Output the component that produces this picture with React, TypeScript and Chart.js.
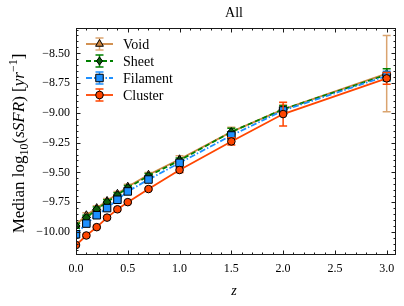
import React, { useEffect, useRef } from "react";
import { Chart, registerables } from "chart.js";

Chart.register(...registerables);

// ---------------- data ----------------
const zValues = [0, 0.1, 0.2, 0.3, 0.4, 0.5, 0.7, 1.0, 1.5, 2.0, 3.0];

const voidMedian = [-9.94, -9.86, -9.8, -9.74, -9.68, -9.62, -9.52, -9.39, -9.16, -8.97, -8.67];
const voidErr = [0.02, 0.02, 0.02, 0.02, 0.02, 0.02, 0.02, 0.03, 0.04, 0.04, 0.32];

const sheetMedian = [-9.95, -9.88, -9.81, -9.75, -9.69, -9.63, -9.53, -9.4, -9.16, -8.97, -8.68];
const sheetErr = [0.02, 0.02, 0.02, 0.02, 0.02, 0.02, 0.02, 0.02, 0.03, 0.03, 0.05];

const filamentMedian = [-10.02, -9.93, -9.86, -9.8, -9.73, -9.66, -9.56, -9.42, -9.19, -8.98, -8.69];
const filamentErr = [0.01, 0.01, 0.01, 0.01, 0.01, 0.01, 0.01, 0.02, 0.02, 0.02, 0.04];

const clusterMedian = [-10.11, -10.03, -9.96, -9.88, -9.81, -9.75, -9.64, -9.48, -9.24, -9.01, -8.71];
const clusterErr = [0.01, 0.01, 0.01, 0.01, 0.01, 0.01, 0.01, 0.02, 0.03, 0.1, 0.05];

const seriesNames = ["Void", "Sheet", "Filament", "Cluster"];
const xTickValues = [0, 0.5, 1.0, 1.5, 2.0, 2.5, 3.0];
const yTickValues = [-10.0, -9.75, -9.5, -9.25, -9.0, -8.75, -8.5];

const X_MIN = 0;
const X_MAX = 3.09;
const Y_MIN = -10.194;
const Y_MAX = -8.287;

// ---------------- styles ----------------
const SERIF = '"Liberation Serif", "DejaVu Serif", serif';
const styles = [
  { color: "#cd853f", errColor: "rgba(205,133,63,0.75)", dash: [] as number[], point: "triangle", radius: 4.5, fill: "#cd853f" },
  { color: "#008000", errColor: "#008000", dash: [5, 3], point: "rectRot", radius: 4, fill: "#0b5d0b" },
  { color: "#1e90ff", errColor: "#1e90ff", dash: [6, 2, 1.5, 2], point: "rect", radius: 5.3, fill: "#1e90ff" },
  { color: "#ff4500", errColor: "#ff4500", dash: [] as number[], point: "circle", radius: 3.8, fill: "#ff4500" },
];
const medians = [voidMedian, sheetMedian, filamentMedian, clusterMedian];
const errors = [voidErr, sheetErr, filamentErr, clusterErr];

function fmtMinus(s: string) {
  return s.replace("-", "\u2212");
}

function drawMarker(ctx: CanvasRenderingContext2D, kind: string, x: number, y: number, r: number, fill: string) {
  ctx.save();
  ctx.beginPath();
  if (kind === "circle") {
    ctx.arc(x, y, r, 0, Math.PI * 2);
  } else if (kind === "rect") {
    const s = r * Math.SQRT1_2;
    ctx.rect(x - s, y - s, 2 * s, 2 * s);
  } else if (kind === "rectRot") {
    ctx.moveTo(x, y - r);
    ctx.lineTo(x + r * 0.75, y);
    ctx.lineTo(x, y + r);
    ctx.lineTo(x - r * 0.75, y);
    ctx.closePath();
  } else if (kind === "triangle") {
    const h = r * 1.5;
    ctx.moveTo(x, y - r);
    ctx.lineTo(x + h / Math.sqrt(3), y + r / 2);
    ctx.lineTo(x - h / Math.sqrt(3), y + r / 2);
    ctx.closePath();
  }
  ctx.fillStyle = fill;
  ctx.fill();
  ctx.strokeStyle = "#000";
  ctx.lineWidth = 1;
  ctx.stroke();
  ctx.restore();
}

type Part = { t: string; size: number; italic?: boolean; dy?: number };
function drawRich(ctx: CanvasRenderingContext2D, parts: Part[], cx: number, cy: number, rot: number, base: number) {
  ctx.save();
  ctx.translate(cx, cy);
  ctx.rotate(rot);
  ctx.textBaseline = "alphabetic";
  ctx.textAlign = "left";
  let total = 0;
  const widths: number[] = [];
  for (const p of parts) {
    ctx.font = `${p.italic ? "italic " : ""}${p.size}px ${SERIF}`;
    const w = ctx.measureText(p.t).width;
    widths.push(w);
    total += w;
  }
  let x = -total / 2;
  parts.forEach((p, i) => {
    ctx.font = `${p.italic ? "italic " : ""}${p.size}px ${SERIF}`;
    ctx.fillStyle = "#000";
    ctx.fillText(p.t, x, base + (p.dy || 0));
    x += widths[i];
  });
  ctx.restore();
}

const mplPlugin = {
  id: "mplDecor",
  beforeDatasetDraw(chart: any, args: any) {
    const idx = chart.data.datasets[args.index].seriesIndex as number;
    const ctx: CanvasRenderingContext2D = chart.ctx;
    const xs = chart.scales.x;
    const ys = chart.scales.y;
    const { left, right, top, bottom } = chart.chartArea;
    const st = styles[idx];
    ctx.save();
    ctx.beginPath();
    ctx.rect(left, top, right - left, bottom - top);
    ctx.clip();
    ctx.strokeStyle = st.errColor;
    ctx.lineWidth = 1.5;
    zValues.forEach((z, j) => {
      const v = medians[idx][j];
      const e = errors[idx][j];
      const px = xs.getPixelForValue(z);
      const y1 = ys.getPixelForValue(v + e);
      const y2 = ys.getPixelForValue(v - e);
      ctx.beginPath();
      ctx.moveTo(px, y1);
      ctx.lineTo(px, y2);
      ctx.moveTo(px - 4, y1);
      ctx.lineTo(px + 4, y1);
      ctx.moveTo(px - 4, y2);
      ctx.lineTo(px + 4, y2);
      ctx.stroke();
    });
    ctx.restore();
  },
  afterDraw(chart: any) {
    const ctx: CanvasRenderingContext2D = chart.ctx;
    const xs = chart.scales.x;
    const ys = chart.scales.y;
    const { left, right, top, bottom } = chart.chartArea;
    ctx.save();
    // spines
    ctx.strokeStyle = "#1a1a1a";
    ctx.lineWidth = 1;
    ctx.strokeRect(Math.round(left) + 0.5, Math.round(top) + 0.5, Math.round(right - left) - 1, Math.round(bottom - top) - 1);
    // ticks
    ctx.beginPath();
    const majL = 4.5;
    const minL = 2.5;
    for (let k = Math.ceil(X_MIN / 0.1 - 1e-6); k <= Math.floor(X_MAX / 0.1 + 1e-6); k++) {
      const v = k / 10;
      const isMaj = k % 5 === 0;
      const L = isMaj ? majL : minL;
      const px = Math.round(xs.getPixelForValue(v)) + 0.5;
      ctx.moveTo(px, bottom);
      ctx.lineTo(px, bottom - L);
      ctx.moveTo(px, top);
      ctx.lineTo(px, top + L);
    }
    for (let k = Math.ceil(Y_MIN / 0.05 - 1e-6); k <= Math.floor(Y_MAX / 0.05 + 1e-6); k++) {
      const v = k * 0.05;
      const isMaj = k % 5 === 0;
      const L = isMaj ? majL : minL;
      const py = Math.round(ys.getPixelForValue(v)) + 0.5;
      ctx.moveTo(left, py);
      ctx.lineTo(left + L, py);
      ctx.moveTo(right, py);
      ctx.lineTo(right - L, py);
    }
    ctx.stroke();

    // title
    ctx.fillStyle = "#000";
    ctx.textAlign = "center";
    ctx.textBaseline = "middle";
    ctx.font = `14px ${SERIF}`;
    const cx = (left + right) / 2;
    ctx.fillText("All", cx - 2, 13);
    // x label
    ctx.font = `italic 14px ${SERIF}`;
    ctx.fillText("z", cx - 2, 291);

    // y label
    drawRich(
      ctx,
      [
        { t: "Median log", size: 17 },
        { t: "10", size: 12, dy: 4 },
        { t: "(", size: 17 },
        { t: "sSFR", size: 17, italic: true },
        { t: ") [", size: 17 },
        { t: "yr", size: 17, italic: true },
        { t: "\u22121", size: 12, dy: -7 },
        { t: "]", size: 17 },
      ],
      18,
      (top + bottom) / 2 + 2,
      -Math.PI / 2,
      6
    );

    // legend
    const lx0 = left + 10;
    const lx1 = left + 37;
    const mx = (lx0 + lx1) / 2;
    seriesNames.forEach((name, i) => {
      const st = styles[i];
      const y = top + 16 + i * 17;
      ctx.save();
      ctx.strokeStyle = st.color;
      ctx.lineWidth = 1.8;
      ctx.setLineDash(st.dash);
      ctx.beginPath();
      ctx.moveTo(lx0, y);
      ctx.lineTo(lx1, y);
      ctx.stroke();
      ctx.setLineDash([]);
      ctx.strokeStyle = st.errColor;
      ctx.lineWidth = 1.5;
      ctx.beginPath();
      ctx.moveTo(mx, y - 6);
      ctx.lineTo(mx, y + 6);
      ctx.moveTo(mx - 4, y - 6);
      ctx.lineTo(mx + 4, y - 6);
      ctx.moveTo(mx - 4, y + 6);
      ctx.lineTo(mx + 4, y + 6);
      ctx.stroke();
      ctx.restore();
      drawMarker(ctx, st.point, mx, y, st.radius, st.fill);
      ctx.fillStyle = "#000";
      ctx.font = `14px ${SERIF}`;
      ctx.textAlign = "left";
      ctx.textBaseline = "middle";
      ctx.fillText(name, left + 47, y + 1);
    });
    ctx.restore();
  },
};

export default function App() {
  const canvasRef = useRef<HTMLCanvasElement | null>(null);

  useEffect(() => {
    document.body.style.margin = "0";
    const canvas = canvasRef.current;
    if (!canvas) return;

    const datasets = seriesNames.map((name, i) => {
      const st = styles[i];
      return {
        label: name,
        seriesIndex: i,
        data: zValues.map((z, j) => ({ x: z, y: medians[i][j] })),
        borderColor: st.color,
        backgroundColor: st.fill,
        borderWidth: 1.8,
        borderDash: st.dash,
        pointStyle: st.point,
        pointRadius: st.radius,
        pointBackgroundColor: st.fill,
        pointBorderColor: "#000",
        pointBorderWidth: 1,
        tension: 0,
        clip: 0,
        order: 3 - i,
      } as any;
    });

    const chart = new Chart(canvas, {
      type: "line",
      data: { datasets },
      options: {
        responsive: false,
        animation: false,
        devicePixelRatio: 1,
        layout: { padding: { left: 0, right: 8, top: 28, bottom: 0 } },
        plugins: {
          legend: { display: false },
          tooltip: { enabled: false },
          title: { display: false },
        },
        scales: {
          x: {
            type: "linear",
            min: X_MIN,
            max: X_MAX,
            grid: { display: false, drawTicks: false },
            border: { display: false },
            afterBuildTicks: (scale: any) => {
              scale.ticks = xTickValues.map((v) => ({ value: v }));
            },
            afterFit: (scale: any) => {
              scale.height = 51;
            },
            ticks: {
              padding: 7,
              color: "#000",
              font: { family: SERIF, size: 12 },
              maxRotation: 0,
              autoSkip: false,
              callback: (v: any) => fmtMinus(Number(v).toFixed(1)),
            },
          },
          y: {
            type: "linear",
            min: Y_MIN,
            max: Y_MAX,
            grid: { display: false, drawTicks: false },
            border: { display: false },
            afterBuildTicks: (scale: any) => {
              scale.ticks = yTickValues.map((v) => ({ value: v }));
            },
            afterFit: (scale: any) => {
              scale.width = 76;
            },
            ticks: {
              padding: 6,
              color: "#000",
              font: { family: SERIF, size: 12 },
              autoSkip: false,
              callback: (v: any) => fmtMinus(Number(v).toFixed(2)),
            },
          },
        },
      },
      plugins: [mplPlugin],
    });

    return () => chart.destroy();
  }, []);

  return (
    <div style={{ position: "fixed", left: 0, top: 0, width: 404, height: 306, background: "#fff" }}>
      <canvas ref={canvasRef} width={404} height={306} style={{ width: 404, height: 306, display: "block" }} />
    </div>
  );
}
